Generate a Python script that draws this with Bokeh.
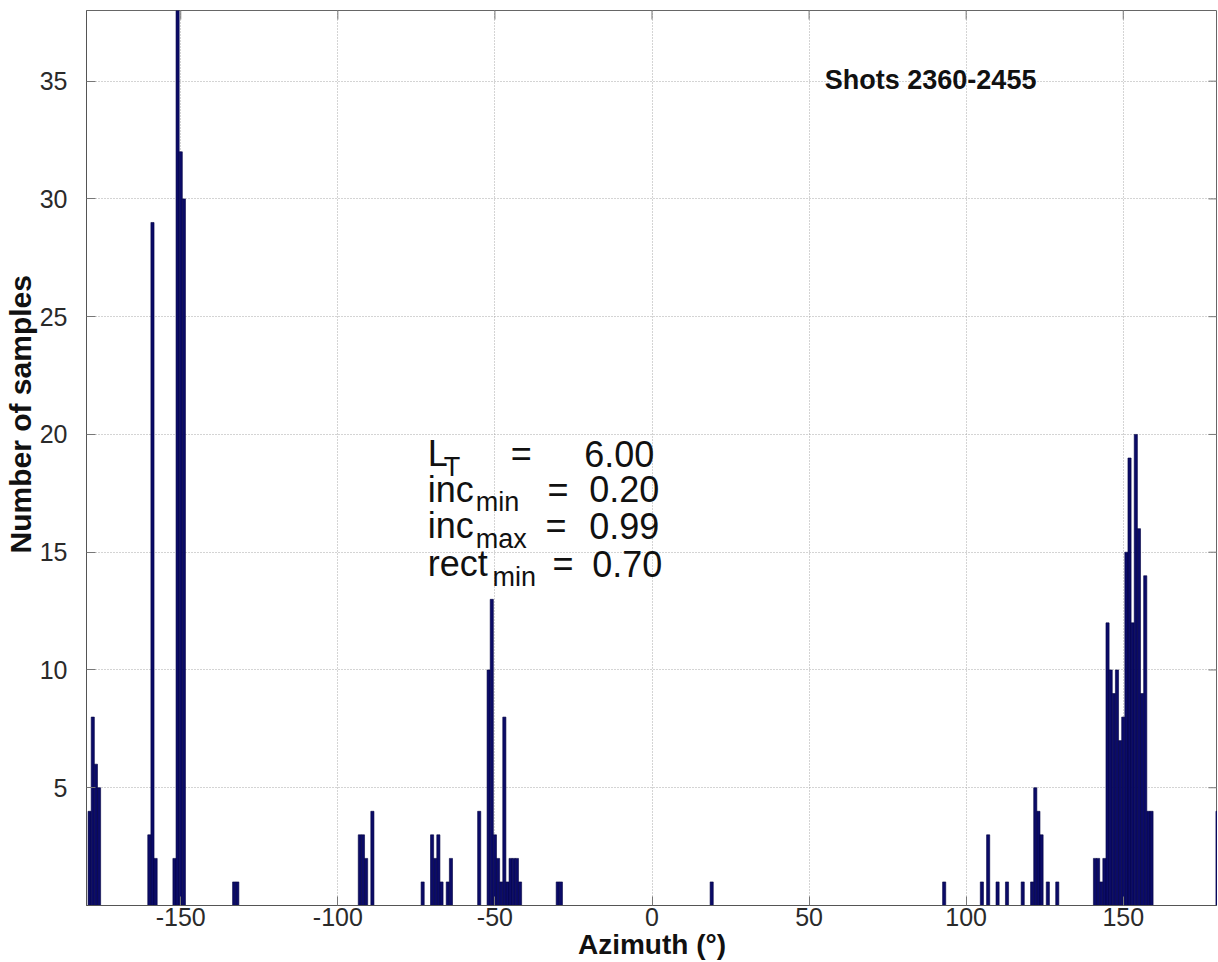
from bokeh.plotting import figure
from bokeh.models import Range1d, FixedTicker, Label, Title
from bokeh.embed import file_html
from bokeh.resources import INLINE

# ---- data (1-degree bins, bin centres in degrees) ----
azimuth_deg = [-179, -178, -177, -176,
               -160, -159, -158,
               -152, -151, -150, -149,
               -133, -132,
               -93, -92, -91, -89,
               -73, -70, -69, -68, -67, -65, -64,
               -55, -52, -51, -50, -49, -48, -47, -46, -45, -44, -43, -42,
               -30, -29,
               19,
               93, 105, 107, 110, 113, 118, 121, 122, 123, 124, 126, 129,
               141, 142, 143, 144, 145, 146, 147, 148, 149, 150,
               151, 152, 153, 154, 155, 156, 157, 158, 159,
               180]
sample_counts = [4, 8, 6, 5,
                 3, 29, 2,
                 2, 38, 32, 30,
                 1, 1,
                 3, 3, 2, 4,
                 1, 3, 2, 3, 1, 1, 2,
                 4, 10, 13, 3, 2, 1, 8, 1, 2, 2, 2, 1,
                 1, 1,
                 1,
                 1, 1, 3, 1, 1, 1, 1, 5, 4, 3, 1, 1,
                 2, 2, 1, 2, 12, 10, 9, 10, 7, 8,
                 15, 19, 12, 20, 16, 9, 14, 4, 4,
                 4]

x_ticks = [-150, -100, -50, 0, 50, 100, 150]
x_tick_labels = ["-150", "-100", "-50", "0", "50", "100", "150"]
y_ticks = [5, 10, 15, 20, 25, 30, 35]
y_tick_labels = ["5", "10", "15", "20", "25", "30", "35"]

title_text = "Shots 2360-2455"
x_label_text = "Azimuth (°)"
y_label_text = "Number of samples"
param_names = ["L", "inc", "inc", "rect"]
param_subs = ["T", "min", "max", "min"]
param_values = ["6.00", "0.20", "0.99", "0.70"]

X_MIN, X_MAX = -180, 180
Y_MIN, Y_MAX = 0, 38

FONT = "Liberation Sans"
TXT = "#111111"
W, H = 1217, 962
BL, BR, BT, BB = 86, 0, 10, 57

p = figure(width=W, height=H, output_backend="svg", toolbar_location=None,
           x_range=Range1d(X_MIN, X_MAX), y_range=Range1d(Y_MIN, Y_MAX),
           min_border_left=BL, min_border_right=BR, min_border_top=BT,
           min_border_bottom=BB, background_fill_color="white",
           border_fill_color="white")
p.outline_line_color = "#666666"
p.outline_line_width = 1

# grids
p.xgrid[0].ticker = FixedTicker(ticks=x_ticks)
p.ygrid[0].ticker = FixedTicker(ticks=y_ticks)
for g in (p.xgrid[0], p.ygrid[0]):
    g.grid_line_color = "#a8a8a8"
    g.grid_line_dash = "1 2"
    g.grid_line_width = 1

p.vbar(x=azimuth_deg, top=sample_counts, bottom=0, width=1,
       fill_color="#0b0b68", line_color="#000040", line_width=0.6)

# axes
for ax in (p.xaxis[0], p.yaxis[0]):
    ax.major_tick_in = 9
    ax.major_tick_out = 0
    ax.minor_tick_in = 0
    ax.minor_tick_out = 0
    ax.axis_line_color = "#555555"
    ax.major_tick_line_color = "#777777"
    ax.major_label_text_font = FONT
    ax.major_label_text_font_size = "25px"
    ax.major_label_text_color = "#2a2a2a"

p.xaxis[0].ticker = FixedTicker(ticks=x_ticks)
p.xaxis[0].major_label_overrides = {t: l for t, l in zip(x_ticks, x_tick_labels)}
p.xaxis[0].major_label_standoff = 2
p.xaxis[0].axis_label = x_label_text
p.xaxis[0].axis_label_text_font = FONT
p.xaxis[0].axis_label_text_font_style = "bold"
p.xaxis[0].axis_label_text_font_size = "28px"
p.xaxis[0].axis_label_text_color = TXT
p.xaxis[0].axis_label_standoff = 0

p.yaxis[0].ticker = FixedTicker(ticks=y_ticks)
p.yaxis[0].major_label_overrides = {t: l for t, l in zip(y_ticks, y_tick_labels)}
p.yaxis[0].major_label_standoff = 19

# y-axis title (placed as a side title so it can sit above the frame centre)
p.add_layout(Title(text=y_label_text, align="left", offset=352, standoff=0,
                   text_font=FONT, text_font_style="bold", text_font_size="30px",
                   text_color=TXT), "left")

# inward ticks on the top and right edges of the box (from the tick lists)
frame_w = W - BL - BR
frame_h = H - BT - BB
tick_len_x = 9 * (X_MAX - X_MIN) / frame_w
tick_len_y = 9 * (Y_MAX - Y_MIN) / frame_h
p.segment(x0=x_ticks, y0=[Y_MAX] * len(x_ticks), x1=x_ticks,
          y1=[Y_MAX - tick_len_y] * len(x_ticks), line_color="#777777", line_width=1)
p.segment(x0=[X_MAX] * len(y_ticks), y0=y_ticks, x1=[X_MAX - tick_len_x] * len(y_ticks),
          y1=y_ticks, line_color="#777777", line_width=1)

# title inside the plot
p.add_layout(Label(x=55.0, y=35.04, text=title_text, text_font=FONT,
                   text_font_style="bold", text_font_size="27px", text_color=TXT,
                   text_align="left", text_baseline="alphabetic"))

# parameter block
base_y = [19.17, 17.68, 16.13, 14.50]
sub_x = [-66.3, -56.1, -56.1, -50.8]
eq_x = [-45.0, -33.3, -33.9, -31.7]
val_x = [-21.6, -20.0, -20.0, -19.0]
for i in range(4):
    p.add_layout(Label(x=-71.4, y=base_y[i], text=param_names[i], text_font=FONT,
                       text_font_size="36px", text_color=TXT,
                       text_align="left", text_baseline="alphabetic"))
    p.add_layout(Label(x=sub_x[i], y=base_y[i] - 0.55, text=param_subs[i], text_font=FONT,
                       text_font_size="27px", text_color=TXT,
                       text_align="left", text_baseline="alphabetic"))
    p.add_layout(Label(x=eq_x[i], y=base_y[i], text="=", text_font=FONT,
                       text_font_size="36px", text_color=TXT,
                       text_align="left", text_baseline="alphabetic"))
    p.add_layout(Label(x=val_x[i], y=base_y[i], text=param_values[i], text_font=FONT,
                       text_font_size="36px", text_color=TXT,
                       text_align="left", text_baseline="alphabetic"))

open("out.html", "w").write(file_html(p, INLINE))
